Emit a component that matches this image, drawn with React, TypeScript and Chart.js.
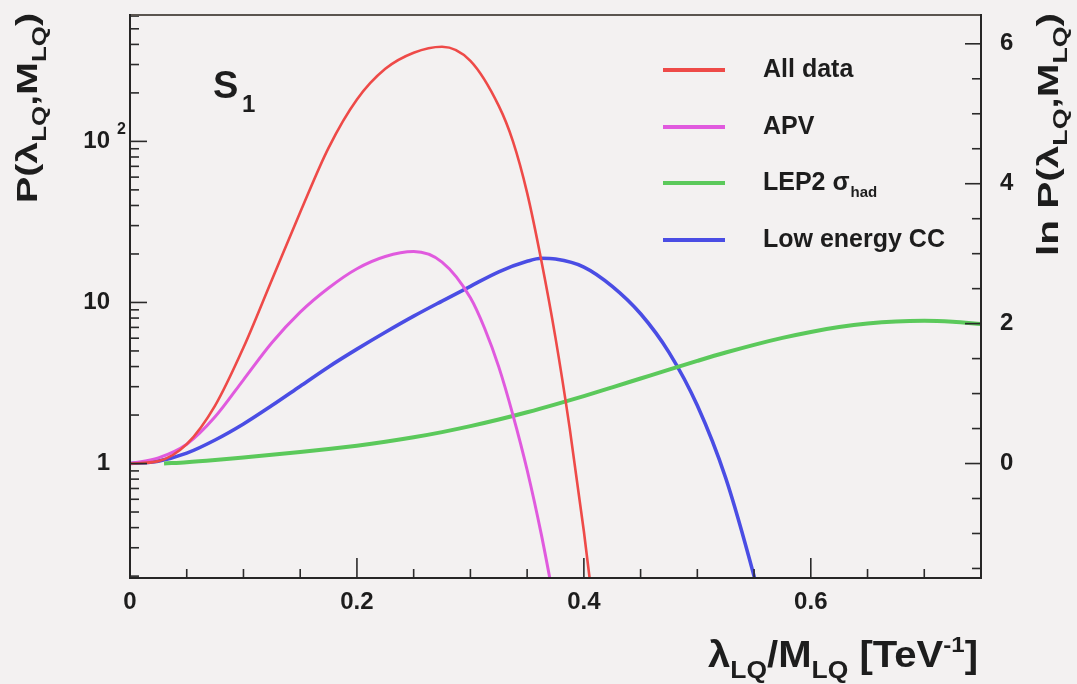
import { useEffect, useRef } from 'react';
import { Chart, registerables } from 'chart.js';

Chart.register(...registerables);

const W = 1077;
const H = 684;
const FONT = '"Liberation Sans", Arial, sans-serif';
const INK = '#1d1d1d';
const BG = '#f3f1f1';

// ---- data ----
const allDataX = [0, 0.025, 0.05, 0.075, 0.1, 0.125, 0.15, 0.175, 0.2, 0.225, 0.25, 0.275, 0.3, 0.325, 0.3375, 0.35, 0.3625, 0.375, 0.3875, 0.4, 0.4125];
const allDataP = [1, 1.035, 1.32, 2.29, 5.25, 13.8, 36.3, 91.2, 182, 282, 355, 387, 316, 166, 100, 47.9, 18.2, 6.03, 1.66, 0.38, 0.072];

const apvX = [0, 0.025, 0.05, 0.075, 0.1, 0.125, 0.15, 0.175, 0.2, 0.225, 0.25, 0.275, 0.3, 0.3125, 0.325, 0.3375, 0.35, 0.3625, 0.375];
const apvP = [1, 1.084, 1.318, 1.95, 3.31, 5.62, 8.71, 12.3, 16.2, 19.3, 20.7, 17.8, 10.7, 6.92, 3.98, 2.0, 0.912, 0.363, 0.126];

const lep2X = [0.03, 0.05, 0.075, 0.1, 0.125, 0.15, 0.175, 0.2, 0.225, 0.25, 0.275, 0.3, 0.325, 0.35, 0.375, 0.4, 0.425, 0.45, 0.475, 0.5, 0.525, 0.55, 0.575, 0.6, 0.625, 0.65, 0.675, 0.7, 0.725, 0.75];
const lep2P = [1.0, 1.019, 1.052, 1.091, 1.132, 1.178, 1.23, 1.291, 1.365, 1.455, 1.567, 1.706, 1.875, 2.08, 2.328, 2.624, 2.972, 3.373, 3.828, 4.335, 4.887, 5.458, 6.026, 6.561, 7.031, 7.396, 7.621, 7.691, 7.586, 7.345];

const lowEX = [0, 0.025, 0.05, 0.075, 0.1, 0.125, 0.15, 0.175, 0.2, 0.225, 0.25, 0.275, 0.3, 0.325, 0.35, 0.3625, 0.375, 0.4, 0.425, 0.45, 0.475, 0.5, 0.525, 0.55, 0.5625];
const lowEP = [1, 1.035, 1.16, 1.4, 1.76, 2.29, 3.02, 3.98, 5.13, 6.53, 8.22, 10.2, 12.6, 15.5, 18.0, 18.8, 18.6, 16.6, 12.6, 8.51, 4.9, 2.29, 0.813, 0.2, 0.089];

const xMin = 0;
const xMax = 0.75;
const yMin = 0.1947;
const yMax = 609;

const xMajorTicks = [0, 0.2, 0.4, 0.6];
const xTickLabels = ['0', '0.2', '0.4', '0.6'];
const yMajorTicks = [1, 10, 100];
const yTickLabels = ['1', '10', '10^2'];
const lnMajorTicks = [0, 2, 4, 6];
const lnTickLabels = ['0', '2', '4', '6'];

const seriesNames = ['All data', 'APV', 'LEP2 σ_had', 'Low energy CC'];
const seriesColors = ['#ee4a48', '#e05ade', '#5bc95b', '#4a4de4'];
const seriesWidths = [2.6, 3, 4, 3.6];

type Part = { t: string; s?: number; dy?: number };
const SUB = 0.66;
const SUBDY = 0.3;

function measureParts(ctx: CanvasRenderingContext2D, parts: Part[], size: number) {
  let w = 0;
  for (const p of parts) {
    ctx.font = `bold ${size * (p.s ?? 1)}px ${FONT}`;
    w += ctx.measureText(p.t).width;
  }
  return w;
}

function drawParts(ctx: CanvasRenderingContext2D, parts: Part[], x: number, y: number, size: number) {
  let cx = x;
  for (const p of parts) {
    ctx.font = `bold ${size * (p.s ?? 1)}px ${FONT}`;
    ctx.fillText(p.t, cx, y + (p.dy ?? 0) * size);
    cx += ctx.measureText(p.t).width;
  }
  return cx - x;
}

function drawFitted(ctx: CanvasRenderingContext2D, parts: Part[], size: number, x: number, y: number, len: number, angle: number) {
  ctx.save();
  ctx.translate(x, y);
  ctx.rotate(angle);
  const w = measureParts(ctx, parts, size);
  ctx.scale(len / w, 1);
  ctx.textAlign = 'left';
  ctx.textBaseline = 'alphabetic';
  drawParts(ctx, parts, 0, 0, size);
  ctx.restore();
}

const leftTitle: Part[] = [{ t: 'P(' }, { t: 'λ' }, { t: 'LQ', s: SUB, dy: SUBDY }, { t: ',' }, { t: 'M' }, { t: 'LQ', s: SUB, dy: SUBDY }, { t: ')' }];
const rightTitle: Part[] = [{ t: 'ln P(' }, { t: 'λ' }, { t: 'LQ', s: SUB, dy: SUBDY }, { t: ',' }, { t: 'M' }, { t: 'LQ', s: SUB, dy: SUBDY }, { t: ')' }];
const xTitle: Part[] = [{ t: 'λ' }, { t: 'LQ', s: SUB, dy: SUBDY }, { t: '/M' }, { t: 'LQ', s: SUB, dy: SUBDY }, { t: ' [TeV' }, { t: '-1', s: 0.6, dy: -0.42 }, { t: ']' }];

const bgPlugin = {
  id: 'bg',
  beforeDraw(chart: any) {
    const ctx = chart.ctx;
    ctx.save();
    ctx.fillStyle = BG;
    ctx.fillRect(0, 0, chart.width, chart.height);
    ctx.restore();
  },
};

const decorPlugin = {
  id: 'decor',
  afterDraw(chart: any) {
    const ctx: CanvasRenderingContext2D = chart.ctx;
    const { left, right, top, bottom } = chart.chartArea;
    const sx = chart.scales.x;
    const sy = chart.scales.y;
    const s2 = chart.scales.y2;
    ctx.save();

    // ticks
    ctx.strokeStyle = '#2a2a2a';
    ctx.lineWidth = 1.6;
    const line = (x1: number, y1: number, x2: number, y2: number) => {
      ctx.beginPath();
      ctx.moveTo(x1, y1);
      ctx.lineTo(x2, y2);
      ctx.stroke();
    };
    for (let i = 0; i <= 15; i++) {
      const v = i * 0.05;
      const px = sx.getPixelForValue(v);
      const major = i % 4 === 0;
      line(px, bottom, px, bottom - (major ? 20 : 9));
    }
    for (let e = -1; e <= 2; e++) {
      for (let k = 1; k <= 9; k++) {
        const v = k * Math.pow(10, e);
        if (v < yMin || v > yMax) continue;
        const py = sy.getPixelForValue(v);
        line(left, py, left + (k === 1 ? 17 : 9), py);
      }
    }
    for (let i = -3; i <= 12; i++) {
      const v = i * 0.5;
      if (v < s2.min || v > s2.max) continue;
      const py = s2.getPixelForValue(v);
      const major = i % 4 === 0;
      line(right, py, right - (major ? 16 : 9), py);
    }

    // frame
    ctx.lineWidth = 2;
    ctx.strokeStyle = '#5a5550';
    line(left, top, right, top);
    ctx.strokeStyle = '#262626';
    line(left, top - 1, left, bottom + 1);
    line(right, top - 1, right, bottom + 1);
    line(left - 1, bottom, right + 1, bottom);

    ctx.fillStyle = INK;

    // superscript y tick label(s)
    yMajorTicks.forEach((v, i) => {
      const lab = yTickLabels[i];
      if (!lab.includes('^')) return;
      const [base, exp] = lab.split('^');
      const py = sy.getPixelForValue(v);
      ctx.font = `bold 24px ${FONT}`;
      ctx.textAlign = 'right';
      ctx.textBaseline = 'middle';
      ctx.fillText(base, left - 20, py);
      ctx.font = `bold 16px ${FONT}`;
      ctx.textAlign = 'left';
      ctx.fillText(exp, left - 13, py - 12);
    });

    // axis titles
    drawFitted(ctx, leftTitle, 30, 37, 203, 190, -Math.PI / 2);
    drawFitted(ctx, rightTitle, 30, 1058, 256, 243, -Math.PI / 2);
    drawFitted(ctx, xTitle, 36, 708, 667, 270, 0);

    // S1 label
    ctx.textAlign = 'left';
    ctx.textBaseline = 'alphabetic';
    ctx.font = `bold 38px ${FONT}`;
    ctx.fillText('S', 213, 98);
    ctx.font = `bold 24px ${FONT}`;
    ctx.fillText('1', 242, 112);

    // legend
    const legendY = [70, 127, 183, 240];
    chart.data.datasets.forEach((ds: any, i: number) => {
      const y = legendY[i];
      ctx.strokeStyle = ds.borderColor;
      ctx.lineWidth = 4;
      line(663, y, 725, y);
      ctx.fillStyle = INK;
      ctx.textBaseline = 'middle';
      ctx.textAlign = 'left';
      const name: string = seriesNames[i];
      if (name.includes('_')) {
        const [a, b] = name.split('_');
        ctx.font = `bold 25px ${FONT}`;
        ctx.fillText(a, 763, y);
        const wa = ctx.measureText(a).width;
        ctx.font = `bold 15px ${FONT}`;
        ctx.fillText(b, 763 + wa + 1, y + 10);
      } else {
        ctx.font = `bold 25px ${FONT}`;
        ctx.fillText(name, 763, y);
      }
    });

    ctx.restore();
  },
};

function pts(xs: number[], ys: number[]) {
  return xs.map((x, i) => ({ x, y: ys[i] }));
}

function noPad(s: any) {
  s.paddingTop = 0;
  s.paddingBottom = 0;
  s.paddingLeft = 0;
  s.paddingRight = 0;
}

export default function App() {
  const ref = useRef<HTMLCanvasElement>(null);
  useEffect(() => {
    const canvas = ref.current;
    if (!canvas) return;
    const xsAll = [allDataX, apvX, lep2X, lowEX];
    const ysAll = [allDataP, apvP, lep2P, lowEP];
    const tickFont = { family: FONT, size: 24, weight: 'bold' as const };
    const noGrid = { display: false, drawTicks: false };
    const chart = new Chart(canvas, {
      type: 'line',
      data: {
        datasets: seriesNames.map((name, i) => ({
          label: name,
          data: pts(xsAll[i], ysAll[i]),
          borderColor: seriesColors[i],
          backgroundColor: seriesColors[i],
          borderWidth: seriesWidths[i],
          pointRadius: 0,
          fill: false,
          cubicInterpolationMode: 'monotone' as const,
          xAxisID: 'x',
          yAxisID: 'y',
        })),
      },
      options: {
        responsive: false,
        animation: false,
        devicePixelRatio: 1,
        layout: { padding: { top: 15, left: 0, right: 0, bottom: 0 } },
        plugins: { legend: { display: false }, tooltip: { enabled: false } },
        scales: {
          x: {
            type: 'linear',
            min: xMin,
            max: xMax,
            grid: noGrid,
            border: { display: false },
            afterBuildTicks: (s: any) => {
              s.ticks = xMajorTicks.map((v) => ({ value: v }));
            },
            afterFit: (s: any) => {
              s.height = 106;
              noPad(s);
            },
            ticks: {
              padding: 10,
              autoSkip: false,
              maxRotation: 0,
              color: INK,
              font: tickFont,
              callback: (v: any) => {
                const i = xMajorTicks.indexOf(Number(v));
                return i >= 0 ? xTickLabels[i] : '';
              },
            },
          },
          y: {
            type: 'logarithmic',
            position: 'left',
            min: yMin,
            max: yMax,
            grid: noGrid,
            border: { display: false },
            afterBuildTicks: (s: any) => {
              s.ticks = yMajorTicks.map((v) => ({ value: v }));
            },
            afterFit: (s: any) => {
              s.width = 130;
              noPad(s);
            },
            ticks: {
              padding: 20,
              autoSkip: false,
              color: INK,
              font: tickFont,
              callback: (v: any) => {
                const i = yMajorTicks.indexOf(Number(v));
                if (i < 0) return '';
                const lab = yTickLabels[i];
                return lab.includes('^') ? '' : lab;
              },
            },
          },
          y2: {
            type: 'linear',
            position: 'right',
            min: Math.log(yMin),
            max: Math.log(yMax),
            grid: noGrid,
            border: { display: false },
            afterBuildTicks: (s: any) => {
              s.ticks = lnMajorTicks.map((v) => ({ value: v }));
            },
            afterFit: (s: any) => {
              s.width = 96;
              noPad(s);
            },
            ticks: {
              padding: 19,
              autoSkip: false,
              color: INK,
              font: tickFont,
              callback: (v: any) => {
                const i = lnMajorTicks.indexOf(Number(v));
                return i >= 0 ? lnTickLabels[i] : '';
              },
            },
          },
        },
      },
      plugins: [bgPlugin, decorPlugin],
    });
    return () => chart.destroy();
  }, []);
  return (
    <div style={{ position: 'absolute', left: 0, top: 0, width: W, height: H, background: BG }}>
      <canvas ref={ref} width={W} height={H} style={{ display: 'block', width: W, height: H }} />
    </div>
  );
}
